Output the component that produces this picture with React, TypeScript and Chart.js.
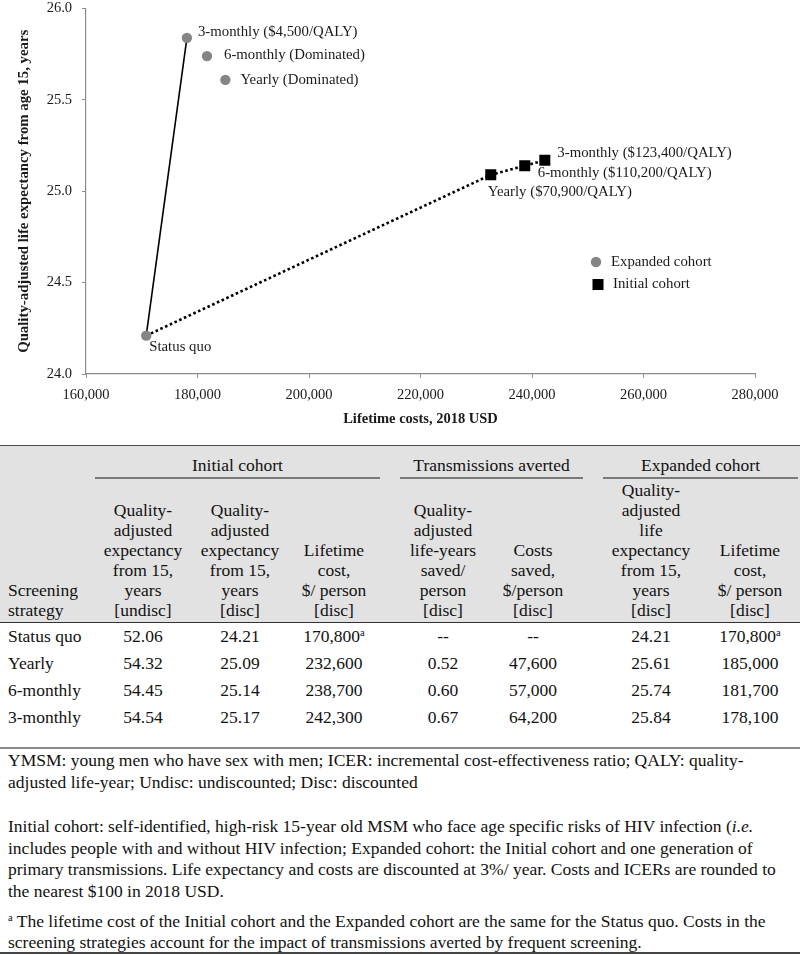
import React, { useEffect, useRef } from 'react';
import { Chart, registerables } from 'chart.js';

Chart.register(...registerables);

// ---------- data ----------
const strategies = ['Status quo', 'Yearly', '6-monthly', '3-monthly'];
const initialQalyUndisc = [52.06, 54.32, 54.45, 54.54];
const initialQaly = [24.21, 25.09, 25.14, 25.17];
const initialCost = [170800, 232600, 238700, 242300];
const qalySaved = [null, 0.52, 0.6, 0.67];
const costSaved = [null, 47600, 57000, 64200];
const expandedQaly = [24.21, 25.61, 25.74, 25.84];
const expandedCost = [170800, 185000, 181700, 178100];
const initialIcer = ['', '$70,900/QALY', '$110,200/QALY', '$123,400/QALY'];
const expandedIcer = ['', 'Dominated', 'Dominated', '$4,500/QALY'];
const seriesNames = ['Expanded cohort', 'Initial cohort'];
const xRange = [160000, 280000, 20000];
const yRange = [24.0, 26.0, 0.5];
const xTitle = 'Lifetime costs, 2018 USD';
const yTitle = 'Quality-adjusted life expectancy from age 15, years';

const groupHeaders = ['Initial cohort', 'Transmissions averted', 'Expanded cohort'];
const columnHeaders = [
  ['Screening', 'strategy'],
  ['Quality-', 'adjusted', 'expectancy', 'from 15,', 'years', '[undisc]'],
  ['Quality-', 'adjusted', 'expectancy', 'from 15,', 'years', '[disc]'],
  ['Lifetime', 'cost,', '$/ person', '[disc]'],
  ['Quality-', 'adjusted', 'life-years', 'saved/', 'person', '[disc]'],
  ['Costs', 'saved,', '$/person', '[disc]'],
  ['Quality-', 'adjusted', 'life', 'expectancy', 'from 15,', 'years', '[disc]'],
  ['Lifetime', 'cost,', '$/ person', '[disc]'],
];
const footnote1 = [
  'YMSM: young men who have sex with men; ICER: incremental cost-effectiveness ratio; QALY: quality-',
  'adjusted life-year; Undisc: undiscounted; Disc: discounted',
];
const footnote2 = [
  'Initial cohort: self-identified, high-risk 15-year old MSM who face age specific risks of HIV infection (',
  'includes people with and without HIV infection; Expanded cohort: the Initial cohort and one generation of',
  'primary transmissions. Life expectancy and costs are discounted at 3%/ year. Costs and ICERs are rounded to',
  'the nearest $100 in 2018 USD.',
];
const footnote3 = [
  ' The lifetime cost of the Initial cohort and the Expanded cohort are the same for the Status quo. Costs in the',
  'screening strategies account for the impact of transmissions averted by frequent screening.',
];

// ---------- helpers ----------
const fmtCost = (v: number) => v.toLocaleString('en-US');
const SERIF = '"Liberation Serif", "Times New Roman", serif';

const pts = (xs: number[], ys: number[], idx: number[]) => idx.map((i) => ({ x: xs[i], y: ys[i] }));

// label placement (dx, dy relative to the point)
const expandedLabelOffsets = [[3, 11], [15, 0], [17, -1], [11, -6]];
const initialLabelOffsets = [[0, 0], [-3, 17.5], [13, 7.5], [12.5, -7]];

const annotatePlugin = {
  id: 'annotate',
  afterDatasetsDraw(chart: any) {
    const { ctx, scales } = chart;
    const xs = scales.x;
    const ys = scales.y;
    ctx.save();
    ctx.font = `14.8px ${SERIF}`;
    ctx.fillStyle = '#1a1a1a';
    ctx.textAlign = 'left';
    ctx.textBaseline = 'middle';
    strategies.forEach((s, i) => {
      const px = xs.getPixelForValue(expandedCost[i]);
      const py = ys.getPixelForValue(expandedQaly[i]);
      const [dx, dy] = expandedLabelOffsets[i];
      const txt = i === 0 ? s : `${s} (${expandedIcer[i]})`;
      ctx.fillText(txt, px + dx, py + dy);
      if (i > 0) {
        const qx = xs.getPixelForValue(initialCost[i]);
        const qy = ys.getPixelForValue(initialQaly[i]);
        const [ex, ey] = initialLabelOffsets[i];
        ctx.fillText(`${s} (${initialIcer[i]})`, qx + ex, qy + ey);
      }
    });
    // legend
    const lx = 596;
    const ly = 262;
    ctx.fillStyle = '#858585';
    ctx.beginPath();
    ctx.arc(lx, ly, 5.2, 0, Math.PI * 2);
    ctx.fill();
    ctx.fillStyle = '#000';
    ctx.fillRect(lx + 2 - 5.5, ly + 22.5 - 5.5, 11, 11);
    ctx.fillStyle = '#1a1a1a';
    ctx.fillText(seriesNames[0], lx + 15, ly);
    ctx.fillText(seriesNames[1], lx + 17, ly + 22.5);
    ctx.restore();
  },
};

function ChartBlock() {
  const ref = useRef<HTMLCanvasElement>(null);
  useEffect(() => {
    if (!ref.current) return;
    const others = [1, 2, 3];
    const chart = new Chart(ref.current, {
      type: 'scatter',
      data: {
        datasets: [
          {
            label: seriesNames[0],
            data: pts(expandedCost, expandedQaly, [0, 1, 2, 3]),
            pointStyle: 'circle',
            pointRadius: 5.2,
            backgroundColor: '#858585',
            borderColor: '#858585',
            borderWidth: 0,
            order: 0,
          },
          {
            label: seriesNames[1],
            data: pts(initialCost, initialQaly, others),
            pointStyle: 'rect',
            pointRadius: 7.8,
            backgroundColor: '#000',
            borderColor: '#000',
            borderWidth: 0,
            order: 0,
          },
          {
            label: 'Expanded frontier',
            data: pts(expandedCost, expandedQaly, [0, 3]),
            showLine: true,
            pointRadius: 0,
            borderColor: '#000',
            borderWidth: 1.6,
            order: 1,
          },
          {
            label: 'Initial frontier',
            data: [{ x: expandedCost[0], y: expandedQaly[0] }, ...pts(initialCost, initialQaly, others)],
            showLine: true,
            pointRadius: 0,
            borderColor: '#000',
            borderWidth: 2.6,
            borderDash: [2.6, 2.6],
            order: 1,
          },
        ],
      },
      options: {
        animation: false,
        responsive: false,
        layout: { padding: { left: 0, right: 45, top: 8.6, bottom: 0 } },
        plugins: { legend: { display: false }, tooltip: { enabled: false } },
        scales: {
          x: {
            type: 'linear',
            min: xRange[0],
            max: xRange[1],
            afterFit: (s: any) => { s.height = 66; s.paddingLeft = 0; s.paddingRight = 0; },
            ticks: {
              stepSize: xRange[2],
              color: '#1a1a1a',
              font: { family: SERIF, size: 14.5 },
              padding: 8,
              callback: (v: any) => fmtCost(Number(v)),
            },
            grid: { drawOnChartArea: false, drawTicks: true, tickLength: 4, color: '#8c8c8c' },
            border: { display: true, color: '#8c8c8c', width: 1.2 },
            title: {
              display: true,
              text: xTitle,
              color: '#1a1a1a',
              font: { family: SERIF, size: 14.5, weight: 'bold' },
              padding: { top: 0, bottom: 12 },
            },
          },
          y: {
            type: 'linear',
            min: yRange[0],
            max: yRange[1],
            afterFit: (s: any) => { s.width = 86; s.paddingTop = 0; s.paddingBottom = 0; },
            ticks: {
              stepSize: yRange[2],
              color: '#1a1a1a',
              font: { family: SERIF, size: 14.5 },
              padding: 10,
              callback: (v: any) => Number(v).toFixed(1),
            },
            grid: { drawOnChartArea: false, drawTicks: true, tickLength: 4, color: '#8c8c8c' },
            border: { display: true, color: '#8c8c8c', width: 1.2 },
            title: {
              display: true,
              text: yTitle,
              color: '#1a1a1a',
              font: { family: SERIF, size: 14.8, weight: 'bold' },
              padding: { top: 15, bottom: 0 },
            },
          },
        },
      },
      plugins: [annotatePlugin],
    });
    return () => chart.destroy();
  }, []);
  return <canvas ref={ref} width={800} height={440} style={{ position: 'absolute', left: 0, top: 0, width: 800, height: 440 }} />;
}

const colCenters = [0, 143, 240, 334, 443, 533, 651, 750];
const groupSpans = [[95, 380], [400, 583], [603, 798]];
const FS = 17.5;

function Cell({ col, top, children }: { col: number; top: number; children: any }) {
  const style: any = {
    position: 'absolute',
    top,
    lineHeight: '20px',
    whiteSpace: 'nowrap',
  };
  if (col === 0) {
    style.left = 8;
    style.textAlign = 'left';
  } else {
    style.left = colCenters[col] - 70;
    style.width = 140;
    style.textAlign = 'center';
  }
  return <div style={style}>{children}</div>;
}

const Sup = () => <sup style={{ fontSize: '0.6em', verticalAlign: 'top', position: 'relative', top: -3 }}>a</sup>;

export default function App() {
  const rows = strategies.map((s, i) => [
    s,
    initialQalyUndisc[i].toFixed(2),
    initialQaly[i].toFixed(2),
    <>{fmtCost(initialCost[i])}{i === 0 ? <Sup /> : null}</>,
    qalySaved[i] == null ? '--' : (qalySaved[i] as number).toFixed(2),
    costSaved[i] == null ? '--' : fmtCost(costSaved[i] as number),
    expandedQaly[i].toFixed(2),
    <>{fmtCost(expandedCost[i])}{i === 0 ? <Sup /> : null}</>,
  ]);
  return (
    <div style={{ position: 'absolute', left: 0, top: 0, width: 800, height: 955, fontFamily: SERIF, fontSize: FS, color: '#111', background: '#fff', overflow: 'hidden' }}>
      <ChartBlock />
      {/* header block */}
      <div style={{ position: 'absolute', left: 0, top: 445, width: 800, height: 178, background: '#e2e2e2', borderTop: '1.5px solid #4a4a4a', borderBottom: '1.5px solid #333', boxSizing: 'border-box' }} />
      {groupHeaders.map((g, k) => {
        const [a, b] = groupSpans[k];
        return (
          <React.Fragment key={g}>
            <div style={{ position: 'absolute', left: a, width: b - a, top: 455, lineHeight: '20px', textAlign: 'center', whiteSpace: 'nowrap' }}>{g}</div>
            <div style={{ position: 'absolute', left: a, width: b - a, top: 477, height: 2, background: '#7a7a7a' }} />
          </React.Fragment>
        );
      })}
      {columnHeaders.map((lines, c) => (
        <Cell key={'h' + c} col={c} top={620 - lines.length * 20}>
          {lines.map((l, j) => (
            <React.Fragment key={j}>{l}{j < lines.length - 1 ? <br /> : null}</React.Fragment>
          ))}
        </Cell>
      ))}
      {rows.map((r, i) =>
        r.map((v, c) => (
          <Cell key={`r${i}c${c}`} col={c} top={626 + 27 * i}>{v}</Cell>
        )),
      )}
      <div style={{ position: 'absolute', left: 0, top: 747, width: 800, height: 2, background: '#8a8a8a' }} />
      {/* footnotes */}
      <div style={{ position: 'absolute', left: 8, top: 750, lineHeight: '21.5px', whiteSpace: 'nowrap' }}>
        {footnote1.map((l, j) => <div key={j}>{l}</div>)}
      </div>
      <div style={{ position: 'absolute', left: 8, top: 816, lineHeight: '21.5px', whiteSpace: 'nowrap' }}>
        <div>{footnote2[0]}<i>i.e.</i></div>
        {footnote2.slice(1).map((l, j) => <div key={j}>{l}</div>)}
      </div>
      <div style={{ position: 'absolute', left: 8, top: 911, lineHeight: '20.5px', whiteSpace: 'nowrap' }}>
        <div><Sup />{footnote3[0]}</div>
        <div>{footnote3[1]}</div>
      </div>
      <div style={{ position: 'absolute', left: 0, top: 952, width: 800, height: 1.5, background: '#444' }} />
    </div>
  );
}
